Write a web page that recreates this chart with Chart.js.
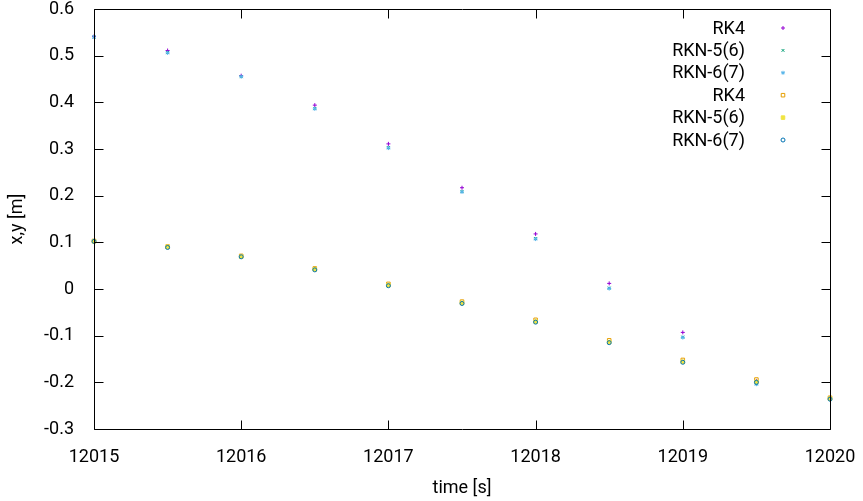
<!DOCTYPE html>
<html>
<head>
<meta charset="utf-8">
<script src="https://cdn.jsdelivr.net/npm/chart.js@4/dist/chart.umd.min.js"></script>
<style>
html,body{margin:0;padding:0;background:#fff;}
#wrap{width:863px;height:501px;}
</style>
</head>
<body>
<div id="wrap"><canvas id="c" width="863" height="501"></canvas></div>
<script>
const times = [12015, 12015.5, 12016, 12016.5, 12017, 12017.5, 12018, 12018.5, 12019, 12019.5, 12020];
// upper curve (x) for the three integrators
const xRK4   = [0.541, 0.511, 0.457, 0.394, 0.311, 0.217, 0.118, 0.012, -0.093, -0.197, -0.234];
const xRKN56 = [0.540, 0.507, 0.455, 0.387, 0.303, 0.209, 0.108, 0.002, -0.103, -0.203, -0.236];
const xRKN67 = [0.540, 0.506, 0.455, 0.386, 0.302, 0.208, 0.107, 0.001, -0.104, -0.204, -0.237];
// lower curve (y)
const yRK4   = [0.103, 0.091, 0.071, 0.044, 0.011, -0.027, -0.066, -0.110, -0.152, -0.194, -0.233];
const yRKN56 = [0.102, 0.090, 0.069, 0.042, 0.008, -0.030, -0.070, -0.114, -0.156, -0.199, -0.235];
const yRKN67 = [0.102, 0.089, 0.069, 0.041, 0.007, -0.031, -0.071, -0.115, -0.157, -0.200, -0.236];

const seriesLabels = ['RK4', 'RKN-5(6)', 'RKN-6(7)', 'RK4', 'RKN-5(6)', 'RKN-6(7)'];
const xTickValues = [12015, 12016, 12017, 12018, 12019, 12020];
const yTickValues = [0.6, 0.5, 0.4, 0.3, 0.2, 0.1, 0, -0.1, -0.2, -0.3];
const xTitle = 'time [s]';
const yTitle = 'x,y [m]';

const FONT = 'Roboto';
const pts = arr => arr.map((v, i) => ({x: times[i], y: v}));

const styles = [
  {c:'#9400d3', s:'cross',    fill:false, r:2},
  {c:'#009e73', s:'crossRot', fill:false, r:2},
  {c:'#56b4e9', s:'star',     fill:false, r:2},
  {c:'#e69f00', s:'rect',     fill:false, r:2.5},
  {c:'#f0e442', s:'rect',     fill:true,  r:2.5},
  {c:'#0072b2', s:'circle',   fill:false, r:2}
];
const seriesData = [xRK4, xRKN56, xRKN67, yRK4, yRKN56, yRKN67];

const datasets = seriesData.map((arr, i) => ({
  label: seriesLabels[i],
  data: pts(arr),
  pointStyle: styles[i].s,
  pointRadius: styles[i].r,
  pointHoverRadius: styles[i].r,
  borderColor: styles[i].c,
  backgroundColor: styles[i].fill ? styles[i].c : 'rgba(0,0,0,0)',
  pointBorderWidth: 1,
  showLine: false,
  clip: false,
  order: -i
}));

const frame = {
  id: 'frame',
  afterDatasetsDraw(chart) {
    const {ctx, chartArea: a, scales} = chart;
    ctx.save();
    ctx.strokeStyle = '#000';
    ctx.lineWidth = 1;
    ctx.beginPath();
    const L = Math.round(a.left) + 0.5, R = Math.round(a.right) + 0.5,
          T = Math.round(a.top) + 0.5, B = Math.round(a.bottom) + 0.5;
    ctx.rect(L, T, R - L, B - T);
    const tl = 9;
    scales.x.ticks.forEach(t => {
      const px = Math.round(scales.x.getPixelForValue(t.value)) + 0.5;
      ctx.moveTo(px, B); ctx.lineTo(px, B - tl);
      ctx.moveTo(px, T); ctx.lineTo(px, T + tl);
    });
    scales.y.ticks.forEach(t => {
      const py = Math.round(scales.y.getPixelForValue(t.value)) + 0.5;
      ctx.moveTo(L, py); ctx.lineTo(L + tl, py);
      ctx.moveTo(R, py); ctx.lineTo(R - tl, py);
    });
    ctx.stroke();

    // key (legend)
    ctx.font = '18px ' + FONT;
    ctx.fillStyle = '#000';
    ctx.textAlign = 'right';
    ctx.textBaseline = 'middle';
    const textRight = a.right - 85, markX = a.right - 47;
    chart.data.datasets.forEach((ds, i) => {
      const y = a.top + 19 + i * 22.4;
      ctx.fillText(ds.label, textRight, y + 1);
      ctx.strokeStyle = ds.borderColor;
      ctx.fillStyle = ds.backgroundColor;
      ctx.lineWidth = 1;
      Chart.helpers.drawPoint(ctx, {pointStyle: ds.pointStyle, radius: ds.pointRadius, rotation: 0, borderWidth: 1}, markX, y);
      ctx.fillStyle = '#000';
    });
    ctx.restore();
  }
};

new Chart(document.getElementById('c'), {
  type: 'scatter',
  data: {datasets},
  options: {
    responsive: false,
    animation: false,
    events: [],
    layout: {padding: {left: 0, right: 33, top: 9, bottom: 0}},
    plugins: {legend: {display: false}, tooltip: {enabled: false}},
    scales: {
      x: {
        type: 'linear', min: 12015, max: 12020,
        afterBuildTicks: s => { s.ticks = xTickValues.map(v => ({value: v})); },
        afterFit: s => { s.height = 72; s.paddingLeft = 0; s.paddingRight = 0; s.paddingTop = 0; s.paddingBottom = 0; },
        grid: {display: false},
        border: {display: false},
        ticks: {color: '#000', font: {family: FONT, size: 18}, padding: 10, maxRotation: 0,
                callback: v => String(v)},
        title: {display: true, text: xTitle, color: '#000', font: {family: FONT, size: 18}, padding: {top: 0, bottom: 2}}
      },
      y: {
        type: 'linear', min: -0.3, max: 0.6,
        afterBuildTicks: s => { s.ticks = yTickValues.map(v => ({value: v})); },
        afterFit: s => { s.width = 94; s.paddingLeft = 0; s.paddingRight = 0; s.paddingTop = 0; s.paddingBottom = 0; },
        grid: {display: false},
        border: {display: false},
        ticks: {color: '#000', font: {family: FONT, size: 18}, padding: 12,
                callback: v => (Math.abs(v) < 1e-9 ? '0' : v.toFixed(1))},
        title: {display: true, text: yTitle, color: '#000', font: {family: FONT, size: 18}, padding: {top: 7, bottom: 0}}
      }
    }
  },
  plugins: [frame]
});
</script>
</body>
</html>
